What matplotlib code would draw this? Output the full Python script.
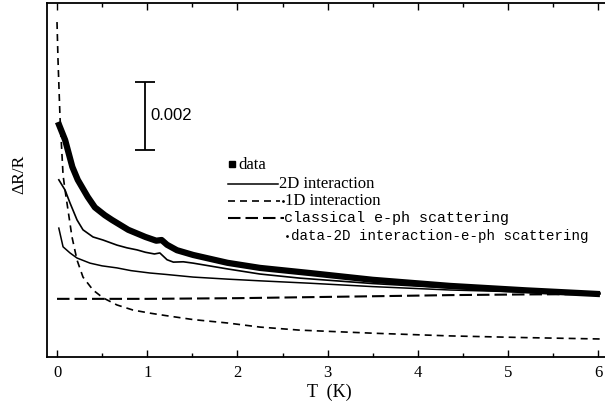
import numpy as np
import matplotlib
matplotlib.use("Agg")
import matplotlib.pyplot as plt

# values, in units of 1e-3 (dR/R, arbitrary offset)
y_unit = 1e-3

T_data = [0.01, 0.09, 0.17, 0.23, 0.34, 0.42, 0.53, 0.61, 0.79, 0.98, 1.10, 1.16,
          1.22, 1.33, 1.51, 1.89, 2.25, 2.80, 3.50, 4.36, 5.20, 6.02]
v_data = [6.91, 6.38, 5.59, 5.21, 4.71, 4.40, 4.17, 4.03, 3.74, 3.53, 3.42, 3.44,
          3.30, 3.14, 3.00, 2.77, 2.62, 2.47, 2.27, 2.09, 1.96, 1.85]

T_2d = [0.02, 0.067, 0.144, 0.222, 0.366, 0.50, 0.665, 0.82, 1.03, 1.20, 1.51, 1.89,
        2.25, 2.80, 3.50, 4.36, 5.20, 6.02]
v_2d = [3.79, 3.24, 3.06, 2.91, 2.76, 2.68, 2.62, 2.54, 2.47, 2.43, 2.35, 2.29,
        2.24, 2.17, 2.07, 1.97, 1.91, 1.85]

T_1d = [0.0, 0.011, 0.033, 0.067, 0.089, 0.122, 0.166, 0.222, 0.288, 0.399,
        0.51, 0.665, 0.843, 1.03, 1.20, 1.51, 1.89, 2.25, 2.69, 3.50, 4.36, 5.20, 6.02]
v_1d = [9.85, 8.74, 7.06, 5.35, 4.91, 4.32, 3.53, 2.85, 2.35, 1.97,
        1.74, 1.53, 1.38, 1.29, 1.22, 1.10, 1.00, 0.88, 0.79, 0.70, 0.62, 0.57, 0.53]

T_eph = [0.0, 1.0, 2.0, 2.8, 3.6, 4.36, 5.2, 6.0]
v_eph = [1.71, 1.71, 1.73, 1.76, 1.79, 1.82, 1.84, 1.85]

T_rest = [0.02, 0.089, 0.144, 0.222, 0.288, 0.399, 0.51, 0.665, 0.776, 0.887, 0.98,
          1.08, 1.14, 1.22, 1.29, 1.40, 1.51, 1.89, 2.25, 2.69, 3.50, 4.36, 5.20, 6.02]
v_rest = [5.21, 4.91, 4.53, 4.03, 3.74, 3.53, 3.44, 3.29, 3.21, 3.15, 3.08,
          3.03, 3.06, 2.86, 2.79, 2.80, 2.76, 2.59, 2.44, 2.32, 2.16, 2.03, 1.95, 1.88]

legend_labels = ["data", "2D interaction", "1D interaction",
                 "classical e-ph scattering", "data-2D interaction-e-ph scattering"]

scale_T = 0.98
scale_center = 7.09
scale_half = 1.0

serif = "Liberation Serif"
mono = "Liberation Mono"

fig = plt.figure(figsize=(6.05, 4.07), dpi=100)
ax = fig.add_axes([47 / 605, 50 / 407, 565 / 605, 354 / 407])

u = lambda v: np.array(v) * y_unit

ax.plot(T_data, u(v_data), color="black", lw=4.5, solid_capstyle="butt",
        solid_joinstyle="round")
ax.plot(T_rest, u(v_rest), color="black", lw=1.2)
ax.plot(T_2d, u(v_2d), color="black", lw=1.1)
ax.plot(T_1d, u(v_1d), color="black", lw=1.2, linestyle=(0, (4.2, 3)))
ax.plot(T_eph, u(v_eph), color="black", lw=1.5, linestyle=(0, (6, 2.4)))

# scale bar
ax.errorbar([scale_T], [scale_center * y_unit], yerr=[scale_half * y_unit],
            fmt="none", ecolor="black", elinewidth=1.3, capsize=7, capthick=1.3)
ax.text(scale_T + 0.05, scale_center * y_unit, "0.002", fontsize=12,
        family="Liberation Sans", va="center", ha="left")

# legend, drawn by hand to match the staggered layout
tr = ax.transAxes
ax.plot([0.327], [0.545], "s", color="black", ms=4.5, transform=tr)
ax.text(0.338, 0.543, legend_labels[0], transform=tr, fontsize=12, family=serif,
        va="center")
ax.plot([0.320, 0.409], [0.489, 0.489], color="black", lw=1.1, transform=tr)
ax.text(0.411, 0.489, legend_labels[1], transform=tr, fontsize=12, family=serif,
        va="center")
ax.plot([0.320, 0.412], [0.441, 0.441], color="black", lw=1.2,
        linestyle=(0, (4.2, 3)), transform=tr)
ax.plot([0.418], [0.441], ".", color="black", ms=2, transform=tr)
ax.text(0.422, 0.441, legend_labels[2], transform=tr, fontsize=12, family=serif,
        va="center")
ax.plot([0.320, 0.419], [0.393, 0.393], color="black", lw=1.5,
        linestyle=(0, (6, 2.4)), transform=tr)
ax.text(0.420, 0.393, legend_labels[3], transform=tr, fontsize=10.8, family=mono,
        va="center")
ax.plot([0.425], [0.342], ".", color="black", ms=2, transform=tr)
ax.text(0.431, 0.342, legend_labels[4], transform=tr, fontsize=10.2, family=mono,
        va="center")

ax.set_xlim(-0.111, 6.153)
ax.set_ylim(0, 10.41 * y_unit)
ax.set_xticks(range(7))
ax.set_xticks(np.arange(0.5, 6.1, 1.0), minor=True)
ax.set_yticks([])
ax.tick_params(axis="x", which="major", direction="in", length=5, width=1,
               top=True, labelsize=12, pad=6)
ax.tick_params(axis="x", which="minor", direction="in", length=3, width=1, top=True)
for lab in ax.get_xticklabels():
    lab.set_family(serif)
for s in ax.spines.values():
    s.set_linewidth(1.3)

ax.set_xlabel("T  (K)", fontsize=13, family=serif, labelpad=2)
ax.set_ylabel("ΔR/R", fontsize=12.5, family=serif)
ax.yaxis.set_label_coords(-0.035, 0.515)

fig.savefig("out.png", dpi=100)
